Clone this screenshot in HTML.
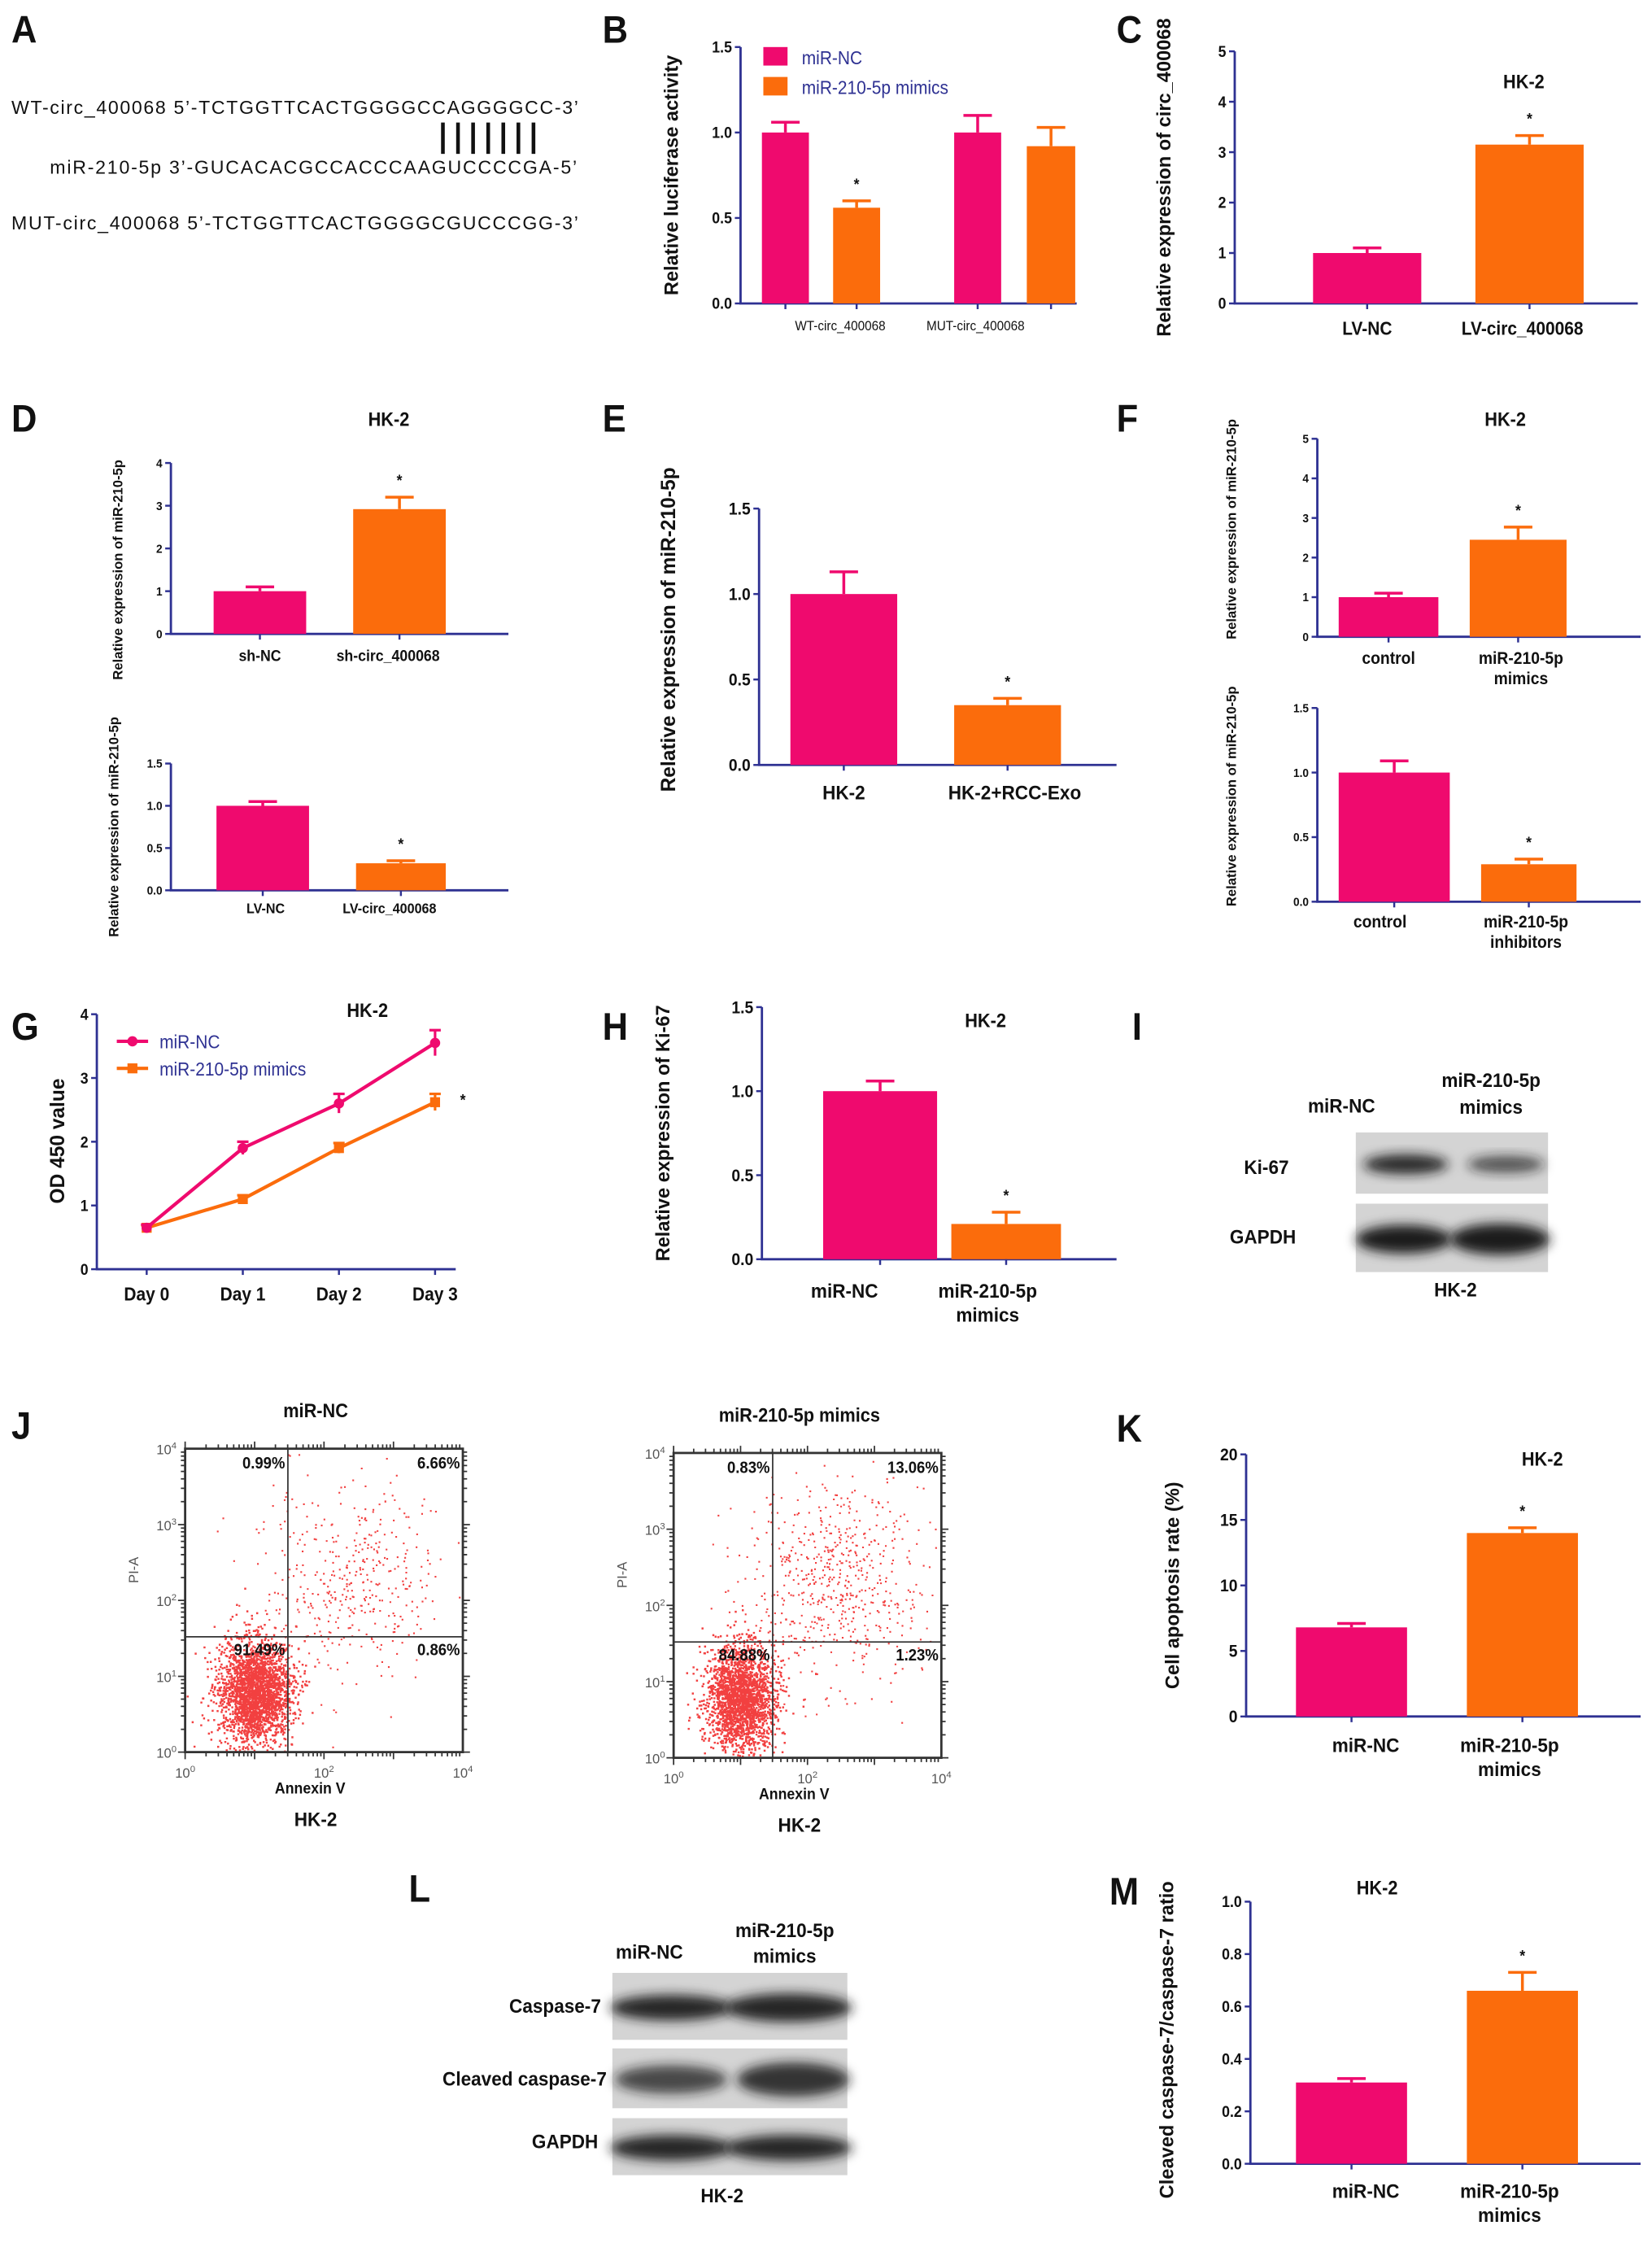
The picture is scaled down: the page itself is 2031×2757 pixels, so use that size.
<!DOCTYPE html>
<html><head><meta charset="utf-8"><title>Figure</title>
<style>
html,body{margin:0;padding:0;background:#fff;}
svg{display:block;font-family:"Liberation Sans",Arial,sans-serif;}
</style></head>
<body>
<svg id="fig" width="2031" height="2757" viewBox="0 0 1160 1574.6" xmlns="http://www.w3.org/2000/svg">
<defs>
<filter id="blur" x="-20%" y="-50%" width="140%" height="200%"><feGaussianBlur stdDeviation="4"/></filter>
</defs>
<g id="root"></g>
</svg>
<script>
// ---------- data ----------
const luciferaseGroups = ["WT-circ_400068","MUT-circ_400068"];
const luciferaseNC = [1.0, 1.0];
const luciferaseNCErr = [0.06, 0.1];
const luciferaseMimic = [0.56, 0.92];
const luciferaseMimicErr = [0.04, 0.11];

const cLabels = ["LV-NC","LV-circ_400068"];
const cValues = [1.0, 3.15];
const cErrs = [0.1, 0.18];

const dTopLabels = ["sh-NC","sh-circ_400068"];
const dTopValues = [1.0, 2.92];
const dTopErrs = [0.1, 0.28];
const dBotLabels = ["LV-NC","LV-circ_400068"];
const dBotValues = [1.0, 0.32];
const dBotErrs = [0.05, 0.03];

const eLabels = ["HK-2","HK-2+RCC-Exo"];
const eValues = [1.0, 0.35];
const eErrs = [0.13, 0.04];

const fTopLabels = [["control"],["miR-210-5p","mimics"]];
const fTopValues = [1.0, 2.45];
const fTopErrs = [0.1, 0.32];
const fBotLabels = [["control"],["miR-210-5p","inhibitors"]];
const fBotValues = [1.0, 0.29];
const fBotErrs = [0.09, 0.04];

const gDays = ["Day 0","Day 1","Day 2","Day 3"];
const gNC = [0.65, 1.9, 2.6, 3.55];
const gNCErr = [0.05, 0.1, 0.15, 0.2];
const gMimic = [0.65, 1.1, 1.9, 2.62];
const gMimicErr = [0.04, 0.06, 0.08, 0.13];

const hLabels = [["miR-NC"],["miR-210-5p","mimics"]];
const hValues = [1.0, 0.21];
const hErrs = [0.06, 0.07];

const kLabels = [["miR-NC"],["miR-210-5p","mimics"]];
const kValues = [6.8, 14.0];
const kErrs = [0.3, 0.4];

const mLabels = [["miR-NC"],["miR-210-5p","mimics"]];
const mValues = [0.31, 0.66];
const mErrs = [0.015, 0.07];

const jTitles = ["miR-NC","miR-210-5p  mimics"];
const jQuadUL = ["0.99%","0.83%"];
const jQuadUR = ["6.66%","13.06%"];
const jQuadLL = ["91.49%","84.88%"];
const jQuadLR = ["0.86%","1.23%"];

// ---------- helpers ----------
const NS="http://www.w3.org/2000/svg";
const root=document.getElementById('root');
const PINK="#ef0a6e", ORANGE="#fb6c0c", NAVY="#2e3192";
function el(tag,attrs,parent,text){
  const e=document.createElementNS(NS,tag);
  for(const k in attrs) e.setAttribute(k,attrs[k]);
  if(text!==undefined) e.textContent=text;
  (parent||root).appendChild(e);
  return e;
}
function txt(x,y,s,size,opts,parent){
  opts=opts||{};
  const t=el('text',{x:x,y:y,'font-size':size,'text-anchor':opts.anchor||'middle','font-weight':opts.weight||'bold',fill:opts.fill||'#111'},parent,s);
  if(opts.rot) t.setAttribute('transform','rotate(-90 '+x+' '+y+')');
  else if(!opts.noscale) t.setAttribute('transform','translate('+x+' 0) scale(0.92 1) translate('+(-x)+' 0)');
  return t;
}
function panelLetter(x,y,s){
  const t=txt(x,y,s,27,{anchor:'start'});
  
  
}
function fmt(v,dec){return v.toFixed(dec);}

function barChart(c){
  const g=el('g',{});
  
  
  const ys=v=>c.yBot-(v/c.max)*(c.yBot-c.yTop);
  const ax=el('path',{d:`M${c.x0} ${c.yTop} V${c.yBot} H${c.xEnd}`,stroke:NAVY,'stroke-width':1.6,fill:'none'},g);
  
  
  c.ticks.forEach(t=>{
    el('line',{x1:c.x0-4,x2:c.x0,y1:ys(t),y2:ys(t),stroke:NAVY,'stroke-width':1.4},g);
    const tl=txt(c.x0-6,ys(t)+c.tfs*0.35,fmt(t,c.dec),c.tfs,{anchor:'end'},g);
    
    
  });
  const yt=txt(c.titleX,(c.yTop+c.yBot)/2+(c.titleShift||0),c.title,c.titleSize,{rot:true},g);
  
  
  c.bars.forEach((b,i)=>{
    const v=c.values[i], e=c.errs[i];
    const r=el('rect',{x:b[0],y:ys(v),width:b[1]-b[0],height:c.yBot-ys(v),fill:c.colors[i]},g);
    
    
    const cx=(b[0]+b[1])/2;
    el('path',{d:`M${cx} ${ys(v)} V${ys(v+e)} M${cx-10} ${ys(v+e)} H${cx+10}`,stroke:c.colors[i],'stroke-width':2,fill:'none'},g);
    if(c.stars&&c.stars[i]) txt(cx,ys(v+e)-8,'*',c.starSize||11,{},g);
    el('line',{x1:cx,x2:cx,y1:c.yBot,y2:c.yBot+4,stroke:NAVY,'stroke-width':1.4},g);
    const lab=Array.isArray(c.labels[i])?c.labels[i]:[c.labels[i]];
    lab.forEach((s,j)=>{
      const lt=txt(cx+(c.labelDx?c.labelDx[i]:0),c.labelY+j*c.lfs*1.2,s,c.lfs,{},g);
      
      
    });
  });
  return g;
}

// ---------- Panel A ----------
panelLetter(8,30,'A');
{
  const g=el('g',{});
  
  
  txt(8,80,"WT-circ_400068 5\u2019-TCTGGTTCACTGGGGCCAGGGGCC-3\u2019",13.2,{anchor:'start',weight:'normal',noscale:true},g).setAttribute('textLength','398');
  for(let i=0;i<7;i++) el('line',{x1:311+i*10.6,x2:311+i*10.6,y1:86,y2:108,stroke:'#111','stroke-width':2.6},g);
  txt(35,122,"miR-210-5p 3\u2019-GUCACACGCCACCCAAGUCCCCGA-5\u2019",13.2,{anchor:'start',weight:'normal',noscale:true},g).setAttribute('textLength','370');
  txt(8,161,"MUT-circ_400068 5\u2019-TCTGGTTCACTGGGGCGUCCCGG-3\u2019",13.2,{anchor:'start',weight:'normal',noscale:true},g).setAttribute('textLength','398');
}

// ---------- Panel B ----------
panelLetter(423,30,'B');
{
  const bars=[[535,568],[585,618],[670,703],[721,755]];
  const values=[luciferaseNC[0],luciferaseMimic[0],luciferaseNC[1],luciferaseMimic[1]];
  const errs=[luciferaseNCErr[0],luciferaseMimicErr[0],luciferaseNCErr[1],luciferaseMimicErr[1]];
  const g=barChart({name:'luciferase-chart',x0:520,yTop:33,yBot:213,xEnd:756,max:1.5,ticks:[0,0.5,1.0,1.5],dec:1,tfs:11,
    title:'Relative luciferase activity',titleX:476,titleSize:13.5,bars:bars,values:values,errs:errs,
    colors:[PINK,ORANGE,PINK,ORANGE],stars:[0,1,0,0],labels:['','','',''],labelY:0,lfs:9});
  luciferaseGroups.forEach((s,i)=>{
    const t=txt([590,685][i],232,s,9.5,{weight:'normal'},g);
    
    
  });
  const lg=el('g',{},g);
  
  
  el('rect',{x:536,y:33,width:17,height:13,fill:PINK},lg);
  txt(563,45,'miR-NC',13,{anchor:'start',weight:'normal',fill:NAVY},lg);
  el('rect',{x:536,y:54,width:17,height:13,fill:ORANGE},lg);
  txt(563,66,'miR-210-5p mimics',13,{anchor:'start',weight:'normal',fill:NAVY},lg);
}

// ---------- Panel C ----------
panelLetter(784,30,'C');
barChart({name:'circ-expression-chart',x0:867,yTop:36,yBot:213,xEnd:1150,max:5,ticks:[0,1,2,3,4,5],dec:0,tfs:11,
  title:'Relative expression of circ_400068',titleX:822,titleSize:13.5,bars:[[922,998],[1036,1112]],values:cValues,errs:cErrs,
  colors:[PINK,ORANGE],stars:[0,1],labels:cLabels,labelY:235,lfs:13,labelDx:[0,-5]});
txt(1070,62,'HK-2',13.5);

// ---------- Panel D ----------
panelLetter(8,303,'D');
txt(273,299,'HK-2',13.5);
barChart({name:'sh-mir-expression-chart',x0:120,yTop:325,yBot:445,xEnd:357,max:4,ticks:[0,1,2,3,4],dec:0,tfs:8.5,
  title:'Relative expression of miR-210-5p',titleX:86,titleSize:9.5,titleShift:15,bars:[[150,215],[248,313]],values:dTopValues,errs:dTopErrs,
  colors:[PINK,ORANGE],stars:[0,1],labels:dTopLabels,labelY:464,lfs:11,labelDx:[0,-8]});
barChart({name:'lv-mir-expression-chart',x0:120,yTop:536,yBot:625,xEnd:357,max:1.5,ticks:[0,0.5,1.0,1.5],dec:1,tfs:8.5,
  title:'Relative expression of miR-210-5p',titleX:83,titleSize:9.5,titleShift:0,bars:[[152,217],[250,313]],values:dBotValues,errs:dBotErrs,
  colors:[PINK,ORANGE],stars:[0,1],labels:dBotLabels,labelY:641,lfs:10,labelDx:[2,-8]});

// ---------- Panel E ----------
panelLetter(423,303,'E');
barChart({name:'exo-mir-expression-chart',x0:533,yTop:357,yBot:537,xEnd:784,max:1.5,ticks:[0,0.5,1.0,1.5],dec:1,tfs:12,
  title:'Relative expression of miR-210-5p',titleX:474,titleSize:14,titleShift:-5,bars:[[555,630],[670,745]],values:eValues,errs:eErrs,
  colors:[PINK,ORANGE],stars:[0,1],labels:eLabels,labelY:561,lfs:14,labelDx:[0,5]});

// ---------- Panel F ----------
panelLetter(784,303,'F');
txt(1057,299,'HK-2',13.5);
barChart({name:'mimics-mir-expression-chart',x0:925,yTop:308,yBot:447,xEnd:1152,max:5,ticks:[0,1,2,3,4,5],dec:0,tfs:8.5,
  title:'Relative expression of miR-210-5p',titleX:868,titleSize:9.5,titleShift:-6,bars:[[940,1010],[1032,1100]],values:fTopValues,errs:fTopErrs,
  colors:[PINK,ORANGE],stars:[0,1],labels:fTopLabels,labelY:466,lfs:12,labelDx:[0,2]});
barChart({name:'inhibitors-mir-expression-chart',x0:925,yTop:497,yBot:633,xEnd:1152,max:1.5,ticks:[0,0.5,1.0,1.5],dec:1,tfs:8.5,
  title:'Relative expression of miR-210-5p',titleX:868,titleSize:9.5,titleShift:-6,bars:[[940,1018],[1040,1107]],values:fBotValues,errs:fBotErrs,
  colors:[PINK,ORANGE],stars:[0,1],labels:fBotLabels,labelY:651,lfs:12,labelDx:[-10,-2]});

// ---------- Panel G (line) ----------
panelLetter(8,730,'G');
{
  const g=el('g',{});
  
  
  const x0=68,yTop=712,yBot=891,xEnd=320,max=4;
  const ys=v=>yBot-(v/max)*(yBot-yTop);
  const xs=i=>103+i*67.5;
  el('path',{d:`M${x0} ${yTop} V${yBot} H${xEnd}`,stroke:NAVY,'stroke-width':1.6,fill:'none'},g);
  [0,1,2,3,4].forEach(t=>{
    el('line',{x1:x0-4,x2:x0,y1:ys(t),y2:ys(t),stroke:NAVY,'stroke-width':1.4},g);
    txt(x0-6,ys(t)+4,String(t),11,{anchor:'end'},g);
  });
  gDays.forEach((d,i)=>{
    el('line',{x1:xs(i),x2:xs(i),y1:yBot,y2:yBot+4,stroke:NAVY,'stroke-width':1.4},g);
    const t=txt(xs(i),913,d,13,{},g);
    
    
  });
  txt(45,801,'OD 450 value',14,{rot:true},g);
  txt(258,714,'HK-2',13.5,{},g);
  [[gMimic,gMimicErr,ORANGE,'series-mimics','s'],[gNC,gNCErr,PINK,'series-mir-nc','c']].forEach(([vals,errs,col,nm,mk])=>{
    const s=el('g',{},g);
    
    
    el('polyline',{points:vals.map((v,i)=>xs(i)+','+ys(v)).join(' '),stroke:col,'stroke-width':2.4,fill:'none'},s);
    vals.forEach((v,i)=>{
      el('path',{d:`M${xs(i)} ${ys(v-errs[i])} V${ys(v+errs[i])} M${xs(i)-4} ${ys(v+errs[i])} H${xs(i)+4}`,stroke:col,'stroke-width':1.8,fill:'none'},s);
      if(mk==='c') el('circle',{cx:xs(i),cy:ys(v),r:3.6,fill:col},s);
      else el('rect',{x:xs(i)-3.5,y:ys(v)-3.5,width:7,height:7,fill:col},s);
    });
  });
  txt(325,776,'*',11,{},g);
  const lg=el('g',{},g);
  
  
  el('line',{x1:82,x2:104,y1:731,y2:731,stroke:PINK,'stroke-width':2.4},lg);
  el('circle',{cx:93,cy:731,r:3.6,fill:PINK},lg);
  txt(112,736,'miR-NC',13,{anchor:'start',weight:'normal',fill:NAVY},lg);
  el('line',{x1:82,x2:104,y1:750,y2:750,stroke:ORANGE,'stroke-width':2.4},lg);
  el('rect',{x:89.5,y:746.5,width:7,height:7,fill:ORANGE},lg);
  txt(112,755,'miR-210-5p mimics',13,{anchor:'start',weight:'normal',fill:NAVY},lg);
}

// ---------- Panel H ----------
panelLetter(423,730,'H');
txt(692,721,'HK-2',13.5);
barChart({name:'ki67-expression-chart',x0:535,yTop:707,yBot:884,xEnd:784,max:1.5,ticks:[0,0.5,1.0,1.5],dec:1,tfs:12,
  title:'Relative expression of Ki-67',titleX:470,titleSize:13.5,titleShift:0,bars:[[578,658],[668,745]],values:hValues,errs:hErrs,
  colors:[PINK,ORANGE],stars:[0,1],labels:hLabels,labelY:911,lfs:14,labelDx:[-25,-13]});

// ---------- Western blots ----------
function blot(x,y,w,h,bands,name,parent){
  const g=el('g',{},parent);
  
  
  el('rect',{x:x,y:y,width:w,height:h,fill:'#d4d4d4'},g);
  bands.forEach(b=>{
    el('ellipse',{cx:x+b[0]*w,cy:y+h*0.52,rx:b[1]*w,ry:b[2],fill:'#1a1a1a','fill-opacity':b[3],filter:'url(#blur)'},g);
  });
  return g;
}
panelLetter(795,730,'I');
{
  const g=el('g',{});
  
  
  txt(942,781,'miR-NC',14,{},g);
  txt(1047,763,'miR-210-5p',14,{},g);
  txt(1047,782,'mimics',14,{},g);
  blot(952,795,135,43,[[0.26,0.22,7,0.9],[0.78,0.2,6,0.7]],'ki67-band',g);
  blot(952,845,135,48,[[0.25,0.25,10,1],[0.75,0.26,11,1]],'gapdh-band',g);
  txt(905,824,'Ki-67',14,{anchor:'end'},g);
  txt(910,873,'GAPDH',14,{anchor:'end'},g);
  txt(1022,910,'HK-2',14,{},g);
}

// ---------- Panel J (flow cytometry) ----------
panelLetter(8,1010,'J');
let seed=12345;
function rnd(){seed=(seed*1103515245+12345)%2147483648;return seed/2147483648;}
function gauss(){let u=0,v=0;while(u===0)u=rnd();v=rnd();return Math.sqrt(-2*Math.log(u))*Math.cos(2*Math.PI*v);}
function flowPlot(ix,bx0,bx1,by0,by1){
  const g=el('g',{});
  
  
  const W=bx1-bx0,H=by1-by0;
  const qx=bx0+W*0.37, qy=by0+H*0.62;
  let pts='';
  const dense=ix===0?2600:2300, sparse=ix===0?420:620;
  for(let i=0;i<dense;i++){
    let x=bx0+W*0.25+gauss()*W*0.065, y=by0+H*0.80+gauss()*H*0.085;
    if(x<bx0+1||x>bx1-1||y<by0+1||y>by1-1) continue;
    pts+=`M${x.toFixed(1)} ${y.toFixed(1)}h1.4v1.4h-1.4z`;
  }
  for(let i=0;i<sparse;i++){
    let x=bx0+W*0.6+gauss()*W*0.17, y=by0+H*0.42+gauss()*H*0.17;
    if(x<bx0+W*0.1||x>bx1-2||y<by0+3||y>by1-2) continue;
    pts+=`M${x.toFixed(1)} ${y.toFixed(1)}h1.2v1.2h-1.2z`;
  }
  const d=el('path',{d:pts,fill:'#f01e1e','fill-opacity':0.85},g);
  
  
  el('rect',{x:bx0,y:by0,width:W,height:H,fill:'none',stroke:'#333','stroke-width':1.6},g);
  el('line',{x1:qx,x2:qx,y1:by0,y2:by1,stroke:'#333','stroke-width':1},g);
  el('line',{x1:bx0,x2:bx1,y1:qy,y2:qy,stroke:'#333','stroke-width':1},g);
  let tk='';
  for(let dec=0;dec<4;dec++) for(let m=1;m<10;m++){
    const f=(dec+Math.log10(m))/4, L=m===1?5:3;
    const xx=bx0+f*W, yy=by1-f*H;
    tk+=`M${xx.toFixed(1)} ${by1}v${L}M${xx.toFixed(1)} ${by0}v${-L}M${bx0} ${yy.toFixed(1)}h${-L}M${bx1} ${yy.toFixed(1)}h${L}`;
  }
  el('path',{d:tk,stroke:'#333','stroke-width':1,fill:'none'},g);
  for(let k=0;k<=4;k++){
    const yy=by1-k*H/4;
    const t=el('text',{x:bx0-6,y:yy+4,'font-size':9.5,'text-anchor':'end',fill:'#555'},g);
    t.textContent='10'; const s=el('tspan',{dy:-4,'font-size':6.5},t); s.textContent=String(k);
  }
  [0,2,4].forEach(k=>{
    const xx=bx0+k*W/4;
    const t=el('text',{x:xx,y:by1+18,'font-size':9.5,'text-anchor':'middle',fill:'#555'},g);
    t.textContent='10'; const s=el('tspan',{dy:-4,'font-size':6.5},t); s.textContent=String(k);
  });
  txt(bx0-33,by0+H*0.4,'PI-A',9.5,{rot:true,weight:'normal',fill:'#555'},g);
  txt(bx0+W*0.45,by1+29,'Annexin V',11,{},g);
  txt(bx0+W*0.47,by1+52,'HK-2',14,{},g);
  txt(bx0+W*0.47,by0-22,jTitles[ix],13.5,{},g);
  txt(qx-2,by0+14,jQuadUL[ix],11.5,{anchor:'end'},g);
  txt(bx1-2,by0+14,jQuadUR[ix],11.5,{anchor:'end'},g);
  txt(qx-2,qy+13,jQuadLL[ix],11.5,{anchor:'end'},g);
  txt(bx1-2,qy+13,jQuadLR[ix],11.5,{anchor:'end'},g);
}
flowPlot(0,130,325,1017,1230);
flowPlot(1,473,661,1020,1234);

// ---------- Panel K ----------
panelLetter(784,1012,'K');
txt(1083,1029,'HK-2',13.5);
barChart({name:'apoptosis-rate-chart',x0:875,yTop:1021,yBot:1205,xEnd:1152,max:20,ticks:[0,5,10,15,20],dec:0,tfs:12,
  title:'Cell apoptosis rate (%)',titleX:828,titleSize:13.5,titleShift:0,bars:[[910,988],[1030,1108]],values:kValues,errs:kErrs,
  colors:[PINK,ORANGE],stars:[0,1],labels:kLabels,labelY:1230,lfs:14,labelDx:[10,-9]});

// ---------- Panel L ----------
panelLetter(287,1335,'L');
{
  const g=el('g',{});
  
  
  txt(456,1375,'miR-NC',14,{},g);
  txt(551,1360,'miR-210-5p',14,{},g);
  txt(551,1378,'mimics',14,{},g);
  blot(430,1385,165,47,[[0.25,0.26,9,0.95],[0.75,0.27,10,0.95]],'caspase7-band',g);
  blot(430,1438,165,42,[[0.25,0.24,10,0.75],[0.77,0.24,12,0.85]],'cleaved-caspase7-band',g);
  blot(430,1487,165,40,[[0.25,0.26,9,0.95],[0.75,0.27,9,0.95]],'gapdh-band',g);
  txt(422,1413,'Caspase-7',14,{anchor:'end'},g);
  txt(426,1464,'Cleaved caspase-7',14,{anchor:'end'},g);
  txt(420,1508,'GAPDH',14,{anchor:'end'},g);
  txt(507,1546,'HK-2',14,{},g);
}

// ---------- Panel M ----------
panelLetter(779,1337,'M');
txt(967,1330,'HK-2',13.5);
barChart({name:'caspase-ratio-chart',x0:878,yTop:1335,yBot:1519,xEnd:1152,max:1.0,ticks:[0,0.2,0.4,0.6,0.8,1.0],dec:1,tfs:11,
  title:'Cleaved caspase-7/caspase-7 ratio',titleX:824,titleSize:13.5,titleShift:5,bars:[[910,988],[1030,1108]],values:mValues,errs:mErrs,
  colors:[PINK,ORANGE],stars:[0,1],labels:mLabels,labelY:1543,lfs:14,labelDx:[10,-9]});
</script>
</body></html>
